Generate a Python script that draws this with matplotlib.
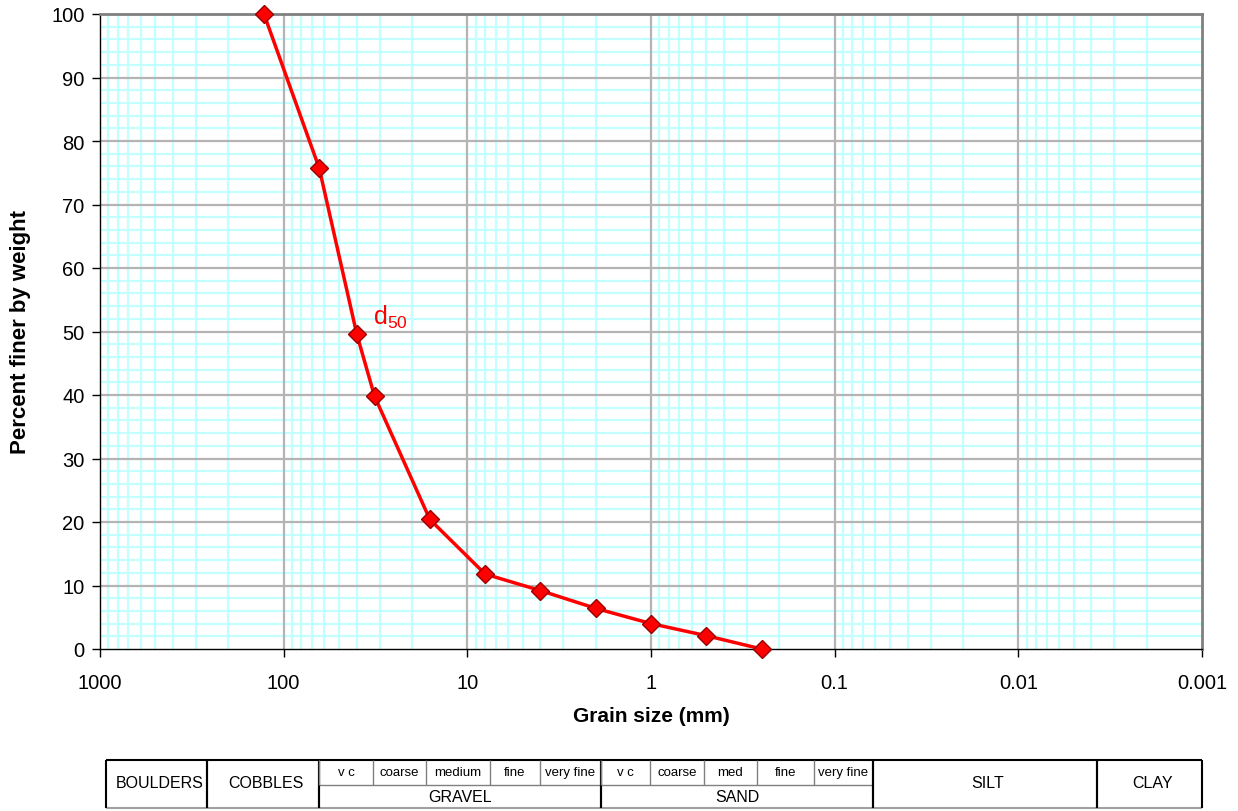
import matplotlib
matplotlib.use("Agg")
import matplotlib.pyplot as plt
from matplotlib.ticker import FixedLocator, NullFormatter, MultipleLocator, LogLocator
import numpy as np

plt.rcParams['font.family'] = ['Liberation Sans', 'DejaVu Sans']
plt.rcParams['mathtext.fontset'] = 'custom'
plt.rcParams['mathtext.rm'] = 'Liberation Sans'
plt.rcParams['mathtext.it'] = 'Liberation Sans'
plt.rcParams['mathtext.bf'] = 'Liberation Sans:bold'

# Data
grain_size_mm = [128, 64, 40, 32, 16, 8, 4, 2, 1, 0.5, 0.25]
percent_finer = [100, 75.7, 49.6, 39.8, 20.4, 11.8, 9.2, 6.4, 4.0, 2.1, 0.0]
x_tick_values = [1000, 100, 10, 1, 0.1, 0.01, 0.001]
x_tick_labels = ["1000", "100", "10", "1", "0.1", "0.01", "0.001"]

# Classification table (pixel column edges in figure space)
main_cols = [("BOULDERS", 106, 207), ("COBBLES", 207, 319), ("SILT", 873, 1097), ("CLAY", 1097, 1202)]
group_cols = [("GRAVEL", 319, 601), ("SAND", 601, 873)]
sub_cols = [("v c", 319, 373), ("coarse", 373, 426), ("medium", 426, 490), ("fine", 490, 540),
            ("very fine", 540, 601), ("v c", 601, 650), ("coarse", 650, 704), ("med", 704, 757),
            ("fine", 757, 814), ("very fine", 814, 873)]

W, H = 1238, 812
fig = plt.figure(figsize=(W / 100, H / 100), dpi=100)
ax = fig.add_axes([100 / W, 1 - 650 / H, (1202 - 100) / W, (650 - 15) / H])

ax.set_xscale('log')
ax.set_xlim(1000, 0.001)
ax.set_ylim(0, 100)

ax.xaxis.set_major_locator(FixedLocator(x_tick_values))
ax.set_xticks(x_tick_values)
ax.set_xticklabels(x_tick_labels)
ax.xaxis.set_minor_locator(LogLocator(base=10, subs=np.arange(2, 10), numticks=50))
ax.xaxis.set_minor_formatter(NullFormatter())
ax.yaxis.set_major_locator(MultipleLocator(10))
ax.yaxis.set_minor_locator(MultipleLocator(2))

# grid: minor cyan below, major gray above
minor_cyan = '#c4ffff'
major_gray = '#b4b4b4'
for xv in ax.get_xticks(minor=True):
    if 0.001 < xv < 1000:
        ax.axvline(xv, color=minor_cyan, lw=1.6, zorder=0.1)
for yv in ax.get_yticks(minor=True):
    if 0 < yv < 100:
        ax.axhline(yv, color=minor_cyan, lw=1.6, zorder=0.1)
for xv in x_tick_values:
    if 0.001 < xv < 1000:
        ax.axvline(xv, color=major_gray, lw=1.6, zorder=0.5)
for yv in ax.get_yticks():
    if 0 < yv <= 100:
        ax.axhline(yv, color=major_gray, lw=1.6, zorder=0.5)

ax.tick_params(axis='both', which='major', direction='out', length=6, width=1,
               labelsize=14.5, color='black', pad=5)
ax.tick_params(axis='both', which='minor', length=0)
ax.tick_params(axis='x', pad=11)

for side in ['left', 'bottom']:
    ax.spines[side].set_color('black')
    ax.spines[side].set_linewidth(1)
    ax.spines[side].set_zorder(3)
for side in ['top', 'right']:
    ax.spines[side].set_color('#808080')
    ax.spines[side].set_linewidth(2)
    ax.spines[side].set_zorder(3)

ax.plot(grain_size_mm, percent_finer, color='#ff0000', linewidth=2.5,
        marker='D', markersize=9.5, markerfacecolor='#ff0000',
        markeredgecolor='#990000', markeredgewidth=1, zorder=5, clip_on=False)

ax.text(32.5, 52.3, r'd$_{50}$', color='#ff0000', fontsize=18, ha='left', va='center')

ax.set_xlabel('Grain size (mm)', fontsize=15, fontweight='bold', va='center')
ax.xaxis.set_label_coords(0.5, (650 - 717) / 635)
ax.set_ylabel('Percent finer by weight', fontsize=16, fontweight='bold', va='center')
ax.yaxis.set_label_coords((21 - 100) / 1102, 0.5)

# Classification table
tab = fig.add_axes([0, 0, 1, 1])
tab.set_xlim(0, W)
tab.set_ylim(H, 0)
tab.axis('off')
top, mid, bot = 761, 786, 809

def hline(x0, x1, y, c='black', lw=1):
    tab.plot([x0, x1], [y, y], color=c, lw=lw, solid_capstyle='butt')

def vline(x, y0, y1, c='black', lw=1):
    tab.plot([x, x], [y0, y1], color=c, lw=lw, solid_capstyle='butt')

hline(106, 1202, top, lw=1.5)
hline(106, 1202, bot, c='#a0a0a0', lw=1.5)
hline(319, 873, mid, c='#808080', lw=1)
for name, x0, x1 in main_cols:
    vline(x0, top, bot, lw=1.5)
    vline(x1, top, bot, lw=1.5)
    tab.text((x0 + x1) / 2 + 3, (top + bot) / 2 - 1, name, ha='center', va='center', fontsize=11.5)
for name, x0, x1 in group_cols:
    vline(x0, top, bot, lw=1.5)
    vline(x1, top, bot, lw=1.5)
    tab.text((x0 + x1) / 2, (mid + bot) / 2, name, ha='center', va='center', fontsize=11.5)
for name, x0, x1 in sub_cols:
    vline(x0, top, mid, c='#808080', lw=1)
    tab.text((x0 + x1) / 2, (top + mid) / 2, name, ha='center', va='center', fontsize=9.5)

fig.savefig('out.png', dpi=100)
